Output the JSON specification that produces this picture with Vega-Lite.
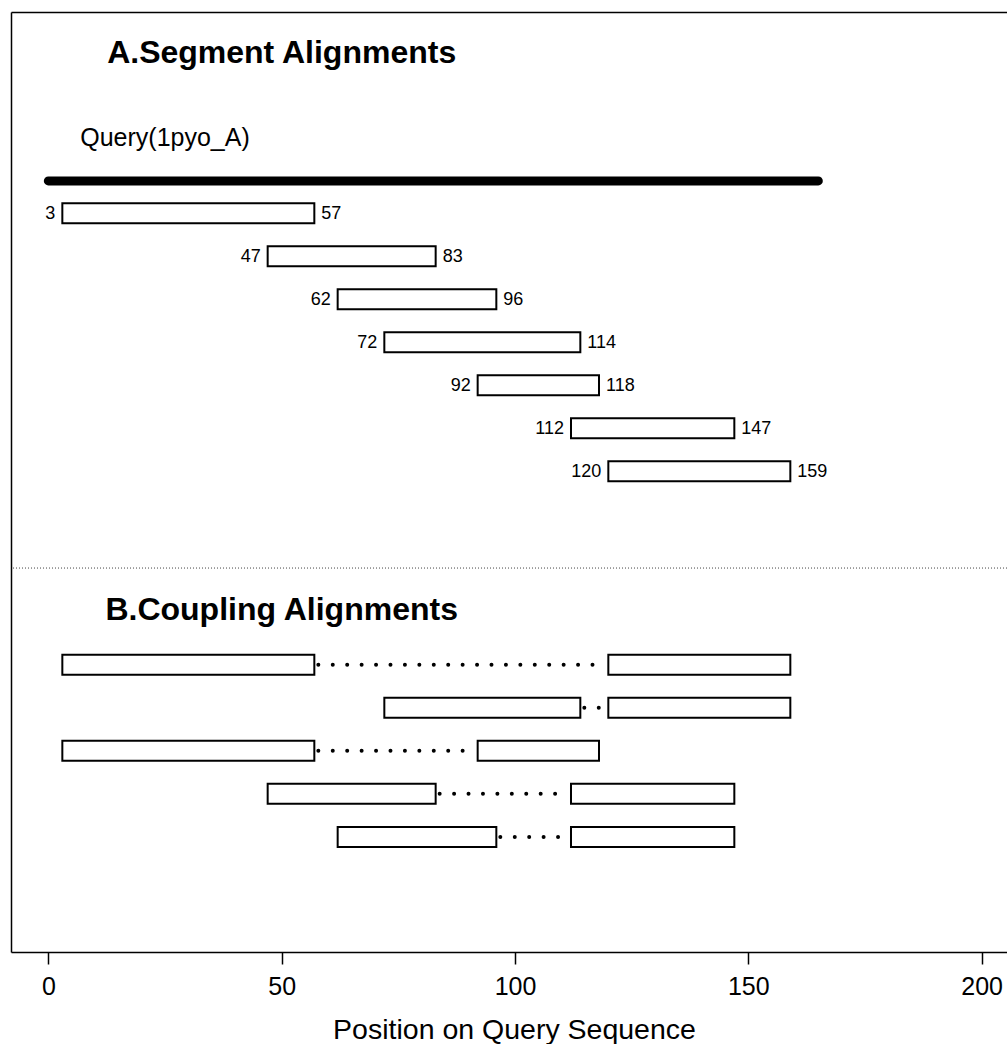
{
  "$schema": "https://vega.github.io/schema/vega-lite/v6.json",
  "width": 996,
  "height": 940,
  "autosize": "none",
  "padding": {"left": 11, "top": 12, "right": 0, "bottom": 92},
  "background": "white",
  "config": {
    "view": {"stroke": null},
    "font": "Liberation Sans",
    "axis": {"grid": false},
    "axisY": {"domain": true, "domainColor": "black", "domainWidth": 1.5, "labels": false, "ticks": false, "grid": false}
  },
  "datasets": {
    "segments": [
      {"start": 3, "end": 57, "row": 1},
      {"start": 47, "end": 83, "row": 2},
      {"start": 62, "end": 96, "row": 3},
      {"start": 72, "end": 114, "row": 4},
      {"start": 92, "end": 118, "row": 5},
      {"start": 112, "end": 147, "row": 6},
      {"start": 120, "end": 159, "row": 7}
    ],
    "couplings": [
      {"start": 3, "end": 57, "row": 11.5},
      {"start": 120, "end": 159, "row": 11.5},
      {"start": 72, "end": 114, "row": 12.5},
      {"start": 120, "end": 159, "row": 12.5},
      {"start": 3, "end": 57, "row": 13.5},
      {"start": 92, "end": 118, "row": 13.5},
      {"start": 47, "end": 83, "row": 14.5},
      {"start": 112, "end": 147, "row": 14.5},
      {"start": 62, "end": 96, "row": 15.5},
      {"start": 112, "end": 147, "row": 15.5}
    ],
    "links": [
      {"from": 57, "to": 120, "row": 11.5},
      {"from": 114, "to": 120, "row": 12.5},
      {"from": 57, "to": 92, "row": 13.5},
      {"from": 83, "to": 112, "row": 14.5},
      {"from": 96, "to": 112, "row": 15.5}
    ],
    "query": [{"start": 0, "end": 165, "row": 0.25}],
    "separator": [{"row": 9.25}],
    "titles": [
      {"label": "A.Segment Alignments", "x": 50, "row": -2.75, "kind": "title"},
      {"label": "B.Coupling Alignments", "x": 50, "row": 10.2, "kind": "title"},
      {"label": "Query(1pyo_A)", "x": 25, "row": -0.75, "kind": "query"}
    ]
  },
  "layer": [
    {
      "data": {"name": "segments"},
      "mark": {"type": "bar", "orient": "horizontal", "size": 20, "fill": "white", "stroke": "black", "strokeWidth": 2},
      "encoding": {
        "x": {
          "field": "start", "type": "quantitative",
          "scale": {"domain": [-8, 205.43], "nice": false, "zero": false},
          "axis": {
            "values": [0, 50, 100, 150, 200],
            "title": "Position on Query Sequence",
            "domain": true, "domainColor": "black", "domainWidth": 1.5,
            "ticks": true, "tickColor": "black", "tickWidth": 1.5, "tickSize": 12,
            "labelFontSize": 25, "labelColor": "black", "labelPadding": 10,
            "labelFlush": false, "labelOverlap": false,
            "titleFontSize": 28.5, "titleFontWeight": "normal", "titleColor": "black",
            "titleBaseline": "alphabetic", "titleY": 86, "titleX": 503, "titleAlign": "center"
          }
        },
        "x2": {"field": "end"},
        "y": {
          "field": "row", "type": "quantitative", "title": null,
          "scale": {"domain": [-3.56, 18.06], "reverse": true, "nice": false, "zero": false}
        }
      }
    },
    {
      "data": {"name": "couplings"},
      "mark": {"type": "bar", "orient": "horizontal", "size": 20, "fill": "white", "stroke": "black", "strokeWidth": 2},
      "encoding": {
        "x": {"field": "start", "type": "quantitative", "axis": null},
        "x2": {"field": "end"},
        "y": {"field": "row", "type": "quantitative", "title": null}
      }
    },
    {
      "data": {"name": "links"},
      "mark": {"type": "rule", "stroke": "black", "strokeWidth": 4, "strokeCap": "round", "strokeDash": [0, 14.43], "xOffset": 4, "x2Offset": -6},
      "encoding": {
        "x": {"field": "from", "type": "quantitative", "axis": null},
        "x2": {"field": "to"},
        "y": {"field": "row", "type": "quantitative", "title": null}
      }
    },
    {
      "data": {"name": "query"},
      "mark": {"type": "rule", "stroke": "black", "strokeWidth": 9, "strokeCap": "round"},
      "encoding": {
        "x": {
          "field": "start", "type": "quantitative",
          "axis": {"orient": "top", "domain": true, "domainColor": "black", "domainWidth": 1.5, "labels": false, "ticks": false, "title": null, "grid": false}
        },
        "x2": {"field": "end"},
        "y": {"field": "row", "type": "quantitative", "title": null}
      }
    },
    {
      "data": {"name": "separator"},
      "mark": {"type": "rule", "stroke": "#444444", "strokeWidth": 1, "strokeDash": [1, 2]},
      "encoding": {
        "y": {"field": "row", "type": "quantitative", "title": null}
      }
    },
    {
      "data": {"name": "segments"},
      "mark": {"type": "text", "align": "right", "baseline": "middle", "dx": -7, "dy": 1, "fontSize": 18, "color": "black"},
      "encoding": {
        "x": {"field": "start", "type": "quantitative", "axis": null},
        "y": {"field": "row", "type": "quantitative", "title": null},
        "text": {"field": "start", "type": "quantitative"}
      }
    },
    {
      "data": {"name": "segments"},
      "mark": {"type": "text", "align": "left", "baseline": "middle", "dx": 7, "dy": 1, "fontSize": 18, "color": "black"},
      "encoding": {
        "x": {"field": "end", "type": "quantitative", "axis": null},
        "y": {"field": "row", "type": "quantitative", "title": null},
        "text": {"field": "end", "type": "quantitative"}
      }
    },
    {
      "data": {"name": "titles"},
      "transform": [{"filter": "datum.kind === 'title'"}],
      "mark": {"type": "text", "align": "center", "baseline": "middle", "dy": 1, "fontSize": 32, "fontWeight": "bold", "color": "black"},
      "encoding": {
        "x": {"field": "x", "type": "quantitative", "axis": null},
        "y": {"field": "row", "type": "quantitative", "title": null},
        "text": {"field": "label", "type": "nominal"}
      }
    },
    {
      "data": {"name": "titles"},
      "transform": [{"filter": "datum.kind === 'query'"}],
      "mark": {"type": "text", "align": "center", "baseline": "middle", "dy": 0, "fontSize": 25, "color": "black"},
      "encoding": {
        "x": {"field": "x", "type": "quantitative", "axis": null},
        "y": {"field": "row", "type": "quantitative", "title": null},
        "text": {"field": "label", "type": "nominal"}
      }
    }
  ],
  "resolve": {"axis": {"x": "independent"}}
}
